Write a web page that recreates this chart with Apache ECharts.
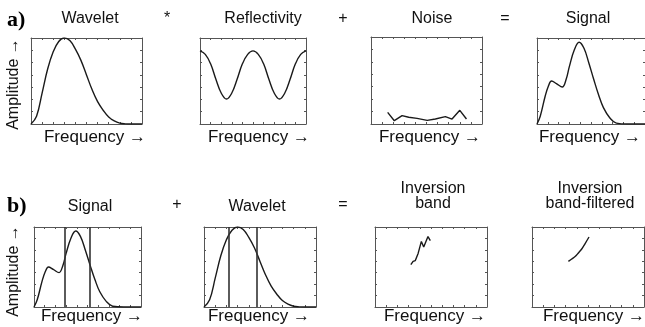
<!DOCTYPE html>
<html>
<head>
<meta charset="utf-8">
<script src="https://cdn.jsdelivr.net/npm/echarts@6/dist/echarts.min.js"></script>
<style>html,body{margin:0;padding:0;background:#fff;}#c{width:645px;height:327px;}</style>
</head>
<body>
<div id="c"></div>
<script>
// ---- data (x in frequency units 0..10, amplitude 0..1) ----
const gridX = [0,0.5,1,1.5,2,2.5,3,3.5,4,4.5,5,5.5,6,6.5,7,7.5,8,8.5,9,9.5,10];
const waveletAmp = [0,0.09,0.36,0.64,0.84,0.96,1.0,0.97,0.87,0.74,0.57,0.40,0.26,0.16,0.08,0.035,0.01,0.002,0,0,0];
const reflectivityAmp = [0.85,0.81,0.70,0.52,0.36,0.29,0.36,0.52,0.70,0.81,0.85,0.81,0.70,0.52,0.36,0.29,0.36,0.52,0.70,0.81,0.85];
const noiseX = [1.5,2.1,2.8,3.4,4.15,5.06,5.8,6.7,7.3,8.0,8.6];
const noiseAmp = [0.134,0.038,0.096,0.077,0.065,0.042,0.057,0.084,0.057,0.157,0.057];
const signalX = [0,0.3,0.75,1.05,1.35,1.8,2.34,2.7,3.0,3.45,3.9,4.35,4.8,5.25,5.7,6.15,6.75,7.35,8.4,10];
const signalAmp = [0,0.09,0.32,0.44,0.50,0.47,0.43,0.52,0.67,0.86,0.95,0.88,0.71,0.52,0.34,0.19,0.07,0.01,0,0];
const inversionX = [3.2,3.4,3.6,3.85,4.14,4.35,4.73,4.94];
const inversionAmp = [0.53,0.57,0.58,0.67,0.82,0.75,0.88,0.83];
const filteredX = [3.25,3.55,3.85,4.14,4.44,4.73,5.09];
const filteredAmp = [0.57,0.60,0.63,0.675,0.725,0.79,0.875];
const signalBand = [2.9, 5.2];
const waveletBand = [2.2, 4.75];

const rowATitles = ['Wavelet','Reflectivity','Noise','Signal'];
const rowAOps = ['*','+','='];
const rowBTitles = [['Signal'],['Wavelet'],['Inversion','band'],['Inversion','band-filtered']];
const rowBOps = ['+','='];
const xLabel = 'Frequency \u2192';
const yLabel = 'Amplitude \u2192';

// ---- layout ----
const panels = [
  {left:31, top:38, width:111, height:86},
  {left:200, top:38, width:106, height:86},
  {left:371, top:37, width:111, height:87},
  {left:537, top:38, width:111, height:86},
  {left:34, top:227, width:107, height:80},
  {left:204, top:227, width:112, height:80},
  {left:375, top:227, width:112, height:80},
  {left:532, top:227, width:112, height:80}
];
const pair = (xs, ys) => xs.map((x, i) => [x, ys[i]]);
const seriesData = [
  pair(gridX, waveletAmp),
  pair(gridX, reflectivityAmp),
  pair(noiseX, noiseAmp),
  pair(signalX, signalAmp),
  pair(signalX, signalAmp),
  pair(gridX, waveletAmp),
  pair(inversionX, inversionAmp),
  pair(filteredX, filteredAmp)
];
const smoothFlags = [true,true,false,true,true,true,false,true];
const bands = {4: signalBand, 5: waveletBand};

const axisColor = '#555';
const grids = [], xAxes = [], yAxes = [], series = [];
panels.forEach((p, i) => {
  grids.push({left:p.left, top:p.top, width:p.width, height:p.height, containLabel:false});
  ['bottom','top'].forEach(pos => xAxes.push({
    gridIndex:i, type:'value', min:0, max:10, interval:1, position:pos,
    axisLine:{show:true, onZero:false, lineStyle:{color:axisColor, width:1}},
    axisTick:{show:true, inside:true, length:2, lineStyle:{color:axisColor}},
    axisLabel:{show:false}, splitLine:{show:false}
  }));
  ['left','right'].forEach(pos => yAxes.push({
    gridIndex:i, type:'value', min:0, max:1, interval:1/7, position:pos,
    axisLine:{show:true, onZero:false, lineStyle:{color:axisColor, width:1}},
    axisTick:{show:true, inside:true, length:2, lineStyle:{color:axisColor}},
    axisLabel:{show:false}, splitLine:{show:false}
  }));
  const s = {
    type:'line', xAxisIndex:2*i, yAxisIndex:2*i, data:seriesData[i],
    smooth:smoothFlags[i] ? 0.4 : false, symbol:'none',
    lineStyle:{color:'#1a1a1a', width:1.4}, silent:true, animation:false
  };
  if (bands[i]) {
    s.markLine = {
      silent:true, symbol:'none', label:{show:false},
      lineStyle:{color:'#333', width:1.6, type:'solid'},
      data: bands[i].map(v => ({xAxis:v}))
    };
  }
  series.push(s);
});

// ---- text ----
const sans = '"Liberation Sans", Arial, sans-serif';
const txt = (text, x, y, size, extra) => Object.assign({
  type:'text', x:x, y:y, silent:true,
  style:{text:text, fill:'#111', font:size + 'px ' + sans, align:'center', verticalAlign:'middle'}
}, extra || {});
const graphics = [];
graphics.push({type:'text', x:7, y:20, style:{text:'a)', fill:'#000', font:'bold 22px "Liberation Serif", "Times New Roman", serif', align:'left', verticalAlign:'middle'}});
graphics.push({type:'text', x:7, y:206, style:{text:'b)', fill:'#000', font:'bold 22px "Liberation Serif", "Times New Roman", serif', align:'left', verticalAlign:'middle'}});
const aTitleX = [90, 263, 432, 588];
rowATitles.forEach((t, i) => graphics.push(txt(t, aTitleX[i], 19, 16)));
const aOpX = [167, 343, 505];
rowAOps.forEach((t, i) => graphics.push(txt(t, aOpX[i], 19, 16)));
const aFreqX = [95, 259, 430, 590];
aFreqX.forEach(x => graphics.push(txt(xLabel, x, 137, 17)));
const bTitleX = [90, 257, 433, 590];
rowBTitles.forEach((lines, i) => {
  if (lines.length === 1) graphics.push(txt(lines[0], bTitleX[i], 207, 16));
  else { graphics.push(txt(lines[0], bTitleX[i], 189, 16)); graphics.push(txt(lines[1], bTitleX[i], 204, 16)); }
});
const bOpX = [177, 343];
rowBOps.forEach((t, i) => graphics.push(txt(t, bOpX[i], 205, 16)));
const bFreqX = [92, 259, 435, 594];
bFreqX.forEach(x => graphics.push(txt(xLabel, x, 316, 17)));
graphics.push(txt(yLabel, 14, 84, 16, {rotation:Math.PI/2}));
graphics.push(txt(yLabel, 14, 271, 16, {rotation:Math.PI/2}));

const chart = echarts.init(document.getElementById('c'), null, {renderer:'canvas'});
chart.setOption({
  animation:false, backgroundColor:'#fff',
  grid:grids, xAxis:xAxes, yAxis:yAxes, series:series, graphic:graphics
});
</script>
</body>
</html>
